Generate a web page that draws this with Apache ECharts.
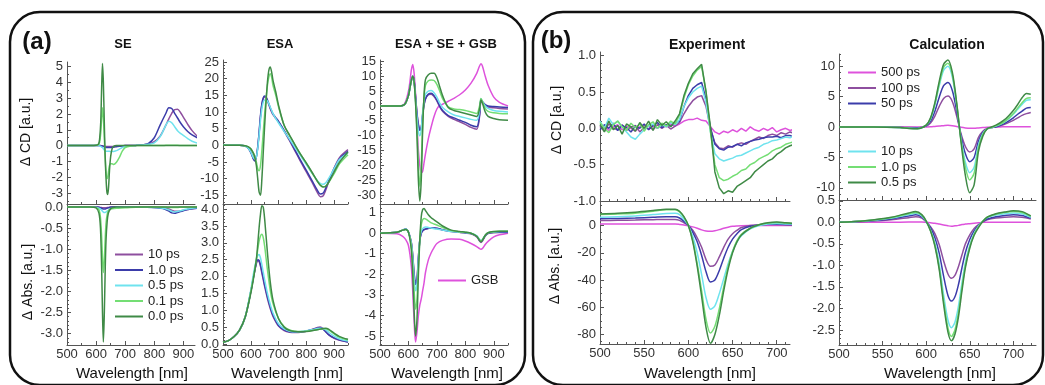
<!DOCTYPE html>
<html>
<head>
<meta charset="utf-8">
<script src="https://cdn.jsdelivr.net/npm/echarts@6/dist/echarts.min.js"></script>
<style>
html,body{margin:0;padding:0;background:#fff}
#main{width:1045px;height:385px}
</style>
</head>
<body>
<div id="main"></div>
<script>
// (a) SE
var seCdWl = [500, 580, 600, 608, 612, 616, 619, 622, 625, 628, 631, 634, 637, 640, 643, 646, 650, 655, 660, 670, 680, 690, 700, 720, 740, 760, 780, 800, 820, 840, 850, 860, 870, 880, 890, 900, 915, 930, 950];
var seCd10 = [0, 0, 0, 0, 0, 0, -0.01, -0.02, -0.03, -0.04, -0.05, -0.05, -0.06, -0.06, -0.06, -0.06, -0.06, -0.05, -0.05, -0.04, -0.02, -0.01, 0, 0, 0.02, 0.05, 0.1, 0.25, 0.6, 1.3, 1.7, 2.05, 2.28, 2.3, 2.1, 1.8, 1.35, 0.95, 0.55];
var seCd1 = [0, 0, 0, 0, 0, -0.01, -0.02, -0.03, -0.05, -0.08, -0.1, -0.11, -0.12, -0.12, -0.12, -0.12, -0.12, -0.11, -0.1, -0.07, -0.04, -0.02, 0, 0, 0.02, 0.05, 0.14, 0.5, 1.3, 2.05, 2.4, 2.35, 2.05, 1.75, 1.45, 1.2, 0.9, 0.68, 0.48];
var seCd05 = [0, 0, 0, 0, -0.02, -0.05, -0.1, -0.12, -0.2, -0.28, -0.32, -0.35, -0.35, -0.35, -0.36, -0.36, -0.37, -0.38, -0.37, -0.32, -0.22, -0.12, -0.05, 0, 0.02, 0.04, 0.08, 0.18, 0.55, 1.3, 1.55, 1.45, 1.2, 0.95, 0.78, 0.65, 0.45, 0.28, 0.15];
var seCd01 = [0, 0, 0.02, 0.06, 0.2, 0.8, 1.7, 2.4, 1.8, 0.6, -0.6, -1.6, -2.1, -2.0, -1.6, -1.25, -1.15, -1.15, -1.2, -1.05, -0.75, -0.35, -0.12, -0.02, 0, 0, 0, 0, 0, 0.02, 0.03, 0.03, 0.02, 0.02, 0.01, 0, 0, 0, 0];
var seCd00 = [0, 0, 0.02, 0.1, 0.4, 1.5, 3.6, 5.2, 4.0, 1.6, -0.6, -2.0, -2.9, -3.1, -2.6, -1.6, -0.7, -0.2, -0.05, 0, 0, 0, 0, 0, 0, 0, 0, 0, 0, 0, 0, 0, 0, 0, 0, 0, 0, 0, 0];

var seAbsWl = [500, 580, 600, 610, 615, 619, 622, 625, 628, 631, 634, 638, 642, 648, 655, 670, 700, 750, 800, 830, 850, 860, 870, 880, 890, 900, 915, 930, 950];
var seAbs10 = [0, 0, 0, 0, -0.01, -0.01, -0.02, -0.02, -0.02, -0.02, -0.02, -0.01, -0.01, 0, 0, 0, 0, 0, -0.01, -0.02, -0.05, -0.08, -0.1, -0.1, -0.09, -0.08, -0.06, -0.04, -0.03];
var seAbs1 = [0, 0, 0, -0.01, -0.02, -0.03, -0.04, -0.05, -0.05, -0.05, -0.04, -0.03, -0.02, -0.01, 0, 0, 0, 0, -0.01, -0.04, -0.1, -0.14, -0.15, -0.13, -0.11, -0.09, -0.06, -0.04, -0.03];
var seAbs05 = [0, 0, -0.01, -0.03, -0.05, -0.08, -0.1, -0.12, -0.13, -0.13, -0.12, -0.1, -0.08, -0.05, -0.03, -0.01, 0, 0, -0.01, -0.03, -0.07, -0.1, -0.12, -0.11, -0.09, -0.07, -0.05, -0.03, -0.02];
var seAbs01 = [0, 0, -0.01, -0.07, -0.25, -0.7, -1.2, -1.55, -1.3, -0.8, -0.4, -0.18, -0.09, -0.05, -0.04, -0.03, -0.02, 0, 0, 0, -0.01, -0.01, -0.01, -0.01, 0, 0, 0, 0, 0];
var seAbs00 = [0, 0, -0.02, -0.15, -0.5, -1.4, -2.5, -3.2, -2.6, -1.6, -0.8, -0.35, -0.15, -0.06, -0.02, 0, 0, 0, 0, 0, 0, 0, 0, 0, 0, 0, 0, 0, 0];

// (a) ESA
var esaCdWl = [500, 560, 580, 590, 600, 610, 615, 620, 625, 630, 635, 640, 645, 650, 655, 660, 665, 670, 675, 680, 690, 700, 720, 740, 760, 780, 800, 820, 840, 850, 860, 870, 880, 900, 920, 950];
var esaCd10 = [0, 0, -0.2, -0.8, -2.1, -4.1, -4.5, -3.4, -0.6, 3.6, 8.5, 12.2, 14, 14.5, 14.2, 13.3, 12.2, 11, 10, 9.2, 8.1, 7, 4.3, 1.3, -1.8, -5, -8, -11, -14.2, -15.4, -15.2, -13.4, -11, -6.8, -3.6, -1.3];
var esaCd1 = [0, 0, -0.2, -0.8, -2.1, -4.2, -4.7, -3.5, -0.5, 4, 9, 12.5, 14.3, 14.8, 14.5, 13.6, 12.5, 11.3, 10.3, 9.4, 8.3, 7.2, 4.5, 1.6, -1.5, -4.6, -7.5, -10.5, -13.5, -14.6, -14.4, -12.8, -10.8, -7, -4, -1.8];
var esaCd05 = [0, 0, -0.2, -0.8, -2, -3.8, -4.2, -3.5, -1, 3, 7.5, 11, 13, 13.6, 13.6, 13.3, 12.5, 11.5, 10.5, 9.5, 8, 6.7, 4.2, 1.8, -0.8, -3.2, -5.8, -8.3, -10.6, -11.4, -11.7, -11.2, -10, -7, -4.2, -2.3];
var esaCd01 = [0, 0, -0.1, -0.4, -1, -2.4, -3.6, -5, -7, -7.6, -6, -1.5, 4, 9.5, 14, 18, 20.5, 21.5, 20.5, 18, 15, 11.5, 6, 2.8, 0, -2.8, -5.4, -8.2, -10.8, -11.8, -12.4, -12.2, -11.2, -8.5, -5.5, -2.8];
var esaCd00 = [0, 0, -0.1, -0.4, -1, -2.5, -3.8, -6, -10, -14, -15, -10, -2, 6, 13, 19, 22.5, 23.5, 22, 19.5, 16, 12, 6, 3, 0, -2.8, -5.3, -8, -10.8, -12, -12.5, -12.3, -11.2, -8, -5, -2];

var esaAbsWl = [500, 520, 540, 560, 580, 600, 610, 620, 625, 630, 635, 640, 645, 650, 660, 670, 680, 700, 720, 740, 760, 780, 800, 820, 840, 850, 860, 870, 880, 900, 920, 950];
var esaAbs10 = [0.05, 0.1, 0.22, 0.42, 0.8, 1.55, 2.0, 2.38, 2.47, 2.44, 2.3, 2.1, 1.9, 1.7, 1.35, 1.05, 0.82, 0.53, 0.4, 0.35, 0.34, 0.35, 0.38, 0.43, 0.49, 0.5, 0.46, 0.37, 0.28, 0.17, 0.11, 0.06];
var esaAbs1 = [0.05, 0.1, 0.22, 0.42, 0.8, 1.55, 2.0, 2.4, 2.5, 2.48, 2.35, 2.15, 1.95, 1.75, 1.4, 1.1, 0.85, 0.55, 0.42, 0.36, 0.35, 0.36, 0.38, 0.42, 0.47, 0.48, 0.44, 0.36, 0.28, 0.18, 0.12, 0.06];
var esaAbs05 = [0.05, 0.1, 0.22, 0.42, 0.8, 1.6, 2.1, 2.5, 2.62, 2.65, 2.55, 2.35, 2.12, 1.9, 1.5, 1.18, 0.92, 0.6, 0.45, 0.38, 0.36, 0.37, 0.39, 0.42, 0.46, 0.47, 0.46, 0.42, 0.35, 0.23, 0.15, 0.09];
var esaAbs01 = [0.05, 0.1, 0.22, 0.42, 0.8, 1.55, 2.0, 2.5, 2.8, 3.05, 3.2, 3.25, 3.15, 2.9, 2.2, 1.6, 1.2, 0.75, 0.52, 0.42, 0.38, 0.37, 0.38, 0.4, 0.43, 0.44, 0.45, 0.45, 0.42, 0.3, 0.2, 0.12];
var esaAbs00 = [0.05, 0.1, 0.22, 0.42, 0.8, 1.5, 1.95, 2.5, 2.95, 3.45, 3.85, 4.1, 4.05, 3.7, 2.7, 1.85, 1.3, 0.75, 0.5, 0.4, 0.37, 0.36, 0.37, 0.39, 0.42, 0.44, 0.46, 0.47, 0.44, 0.32, 0.22, 0.14];

// (a) ESA + SE + GSB
var sumCdWl = [500, 560, 580, 590, 600, 605, 610, 615, 620, 625, 630, 635, 640, 645, 650, 655, 660, 670, 680, 690, 700, 710, 720, 740, 760, 780, 800, 820, 840, 850, 855, 860, 870, 880, 900, 920, 950];
var sumCdGsb = [0, 0, 0.2, 1.5, 5, 8, 12, 14, 11, 4, -6, -15, -20, -22.5, -22, -19, -16, -11, -7, -3.5, -1, 0.2, 0.6, 1.6, 2.6, 3.8, 5.4, 7.7, 11, 13.5, 14.2, 13.5, 10, 7, 3, 1.2, 0];
var sumCd10 = [0, 0, 0.2, 1, 3.5, 6, 8.5, 10, 8.5, 3.2, -2.2, -6, -7.6, -7, -2.8, 0.5, 2.4, 3.8, 4, 3.2, 1.7, -0.3, -1.8, -3.5, -4.5, -5.3, -6.2, -7.2, -7.8, -3.5, 2, 1.2, 0.2, -0.3, -0.6, -0.8, -1];
var sumCd1 = [0, 0, 0.2, 1, 3.5, 6, 8.5, 10, 8.5, 3, -2.5, -6.5, -8.2, -7.5, -3, 0.5, 2.5, 4, 4.3, 3.5, 2, 0, -1.5, -3.2, -4, -4.8, -5.5, -6.5, -7, -3, 2.3, 1.5, 0.5, 0, -0.2, -0.3, -0.5];
var sumCd05 = [0, 0, 0.2, 1, 3.5, 6, 8.5, 10, 8, 2, -4, -8.5, -10, -8, -2, 2, 4, 5, 5.2, 4.5, 3, 1, -0.5, -2, -3, -3.5, -4, -4.5, -4.8, -1.5, 2.5, 1.5, 0, -0.8, -1.5, -1.8, -2];
var sumCd01 = [0, 0, 0.2, 1, 3.5, 6, 8.5, 10, 8, 1.5, -8, -20, -27, -20, -6, 3, 7, 8.5, 8.8, 8.6, 7.3, 5, 2.5, -0.3, -1, -1.2, -1.5, -2, -2.5, 0, 2.5, 1.5, -0.8, -1.8, -2.3, -2.5, -2.6];
var sumCd00 = [0, 0, 0.2, 1, 3.5, 6, 8.5, 10, 8, 1, -10, -25, -32, -25, -8, 4, 9, 10.5, 11, 11, 9.5, 6.5, 3.5, -0.5, -1.5, -2, -2.5, -3, -3.5, -1, 2, 1, -2, -3.5, -4.2, -4.6, -4.8];

var sumAbsWl = [500, 560, 580, 590, 600, 610, 615, 620, 625, 630, 635, 640, 645, 650, 655, 660, 670, 680, 690, 700, 720, 750, 780, 800, 820, 840, 850, 855, 860, 870, 880, 900, 920, 950];
var sumAbsGsb = [0, -0.03, -0.15, -0.3, -0.6, -1.6, -2.8, -4.3, -5.3, -4.8, -4.0, -3.5, -3.2, -2.8, -2.4, -1.9, -1.3, -0.95, -0.7, -0.5, -0.35, -0.28, -0.3, -0.38, -0.5, -0.65, -0.75, -0.78, -0.75, -0.55, -0.4, -0.18, -0.08, 0];
var sumAbs10 = [0, 0.05, 0.15, 0.2, 0.05, -0.45, -1.05, -1.95, -2.4, -2.2, -1.15, -0.35, 0.0, 0.12, 0.18, 0.2, 0.23, 0.25, 0.24, 0.23, 0.16, 0.08, 0.04, 0.01, -0.03, -0.18, -0.38, -0.45, -0.38, -0.14, -0.02, 0.02, 0.03, 0.03];
var sumAbs1 = [0, 0.05, 0.15, 0.2, 0.05, -0.45, -1.1, -2.0, -2.5, -2.3, -1.2, -0.35, 0.0, 0.12, 0.18, 0.2, 0.24, 0.26, 0.25, 0.24, 0.17, 0.09, 0.05, 0.02, -0.02, -0.15, -0.34, -0.4, -0.34, -0.12, 0, 0.04, 0.05, 0.05];
var sumAbs05 = [0, 0.05, 0.15, 0.2, 0.05, -0.5, -1.2, -2.2, -2.8, -2.5, -1.3, -0.3, 0.1, 0.22, 0.28, 0.3, 0.28, 0.25, 0.22, 0.2, 0.15, 0.08, 0.05, 0.03, 0, -0.12, -0.3, -0.36, -0.3, -0.1, 0.02, 0.06, 0.08, 0.08];
var sumAbs01 = [0, 0.05, 0.15, 0.18, 0.05, -0.6, -1.5, -2.8, -3.7, -3.2, -1.6, -0.3, 0.4, 0.65, 0.72, 0.7, 0.6, 0.5, 0.45, 0.4, 0.28, 0.13, 0.07, 0.04, 0, -0.15, -0.32, -0.38, -0.32, -0.1, 0.02, 0.07, 0.09, 0.1];
var sumAbs00 = [0, 0.05, 0.15, 0.18, 0.05, -0.8, -2.0, -3.8, -5.0, -4.2, -2.0, -0.3, 0.8, 1.15, 1.2, 1.1, 0.9, 0.75, 0.65, 0.55, 0.35, 0.15, 0.08, 0.05, 0, -0.15, -0.35, -0.42, -0.35, -0.1, 0.02, 0.08, 0.1, 0.1];

// (b) Experiment
var expCdWl = [500, 505, 510, 515, 520, 525, 530, 535, 540, 545, 550, 555, 560, 565, 570, 575, 580, 585, 590, 595, 600, 605, 610, 615, 620, 625, 630, 635, 640, 645, 650, 655, 660, 665, 670, 675, 680, 685, 690, 695, 700, 705, 710, 715, 720];
var expCd500 = [0.0, 0.04, -0.03, 0.02, 0.05, -0.02, 0.03, 0.0, -0.04, 0.02, 0.05, -0.01, 0.03, 0.0, 0.04, 0.02, 0.06, 0.03, 0.06, 0.1, 0.12, 0.12, 0.14, 0.11, 0.1, 0.02, -0.05, -0.08, -0.04, -0.06, -0.02, -0.05, 0.0, -0.04, 0.02, -0.02, -0.04, 0.0, -0.03, 0.01, -0.05, -0.02, 0.0, -0.03, -0.01];
var expCd100 = [0.03, -0.04, 0.06, 0.0, -0.02, 0.05, -0.03, 0.02, 0.04, -0.05, 0.01, 0.03, -0.02, 0.05, 0.0, 0.04, -0.01, 0.03, 0.08, 0.2, 0.3, 0.38, 0.43, 0.45, 0.3, 0.0, -0.2, -0.27, -0.28, -0.24, -0.26, -0.22, -0.2, -0.22, -0.18, -0.15, -0.12, -0.14, -0.1, -0.08, -0.1, -0.06, -0.08, -0.05, -0.07];
var expCd50 = [-0.02, 0.05, 0.0, 0.07, -0.03, 0.04, 0.01, -0.05, 0.03, 0.0, 0.06, -0.02, 0.04, 0.08, 0.01, 0.05, 0.03, 0.07, 0.1, 0.3, 0.45, 0.55, 0.6, 0.63, 0.4, 0.0, -0.22, -0.28, -0.3, -0.26, -0.25, -0.22, -0.24, -0.2, -0.18, -0.16, -0.15, -0.13, -0.12, -0.12, -0.11, -0.13, -0.1, -0.1, -0.12];
var expCd10 = [0.1, 0.0, 0.14, 0.05, 0.1, 0.02, -0.05, -0.12, -0.15, -0.08, -0.02, 0.03, 0.06, 0.0, 0.05, 0.02, 0.08, 0.05, 0.12, 0.3, 0.42, 0.5, 0.55, 0.58, 0.35, -0.05, -0.35, -0.42, -0.45, -0.43, -0.41, -0.38, -0.37, -0.34, -0.31, -0.28, -0.26, -0.22, -0.2, -0.17, -0.16, -0.14, -0.12, -0.13, -0.1];
var expCd1 = [0.08, 0.0, -0.06, 0.05, 0.1, 0.02, -0.03, 0.07, 0.01, 0.06, -0.04, 0.05, 0.09, 0.0, 0.07, 0.03, 0.1, 0.06, 0.18, 0.42, 0.6, 0.72, 0.8, 0.85, 0.5, -0.05, -0.5, -0.68, -0.72, -0.7, -0.66, -0.63, -0.58, -0.56, -0.5, -0.47, -0.42, -0.39, -0.36, -0.31, -0.28, -0.26, -0.22, -0.2, -0.18];
var expCd05 = [0.05, -0.05, 0.1, -0.02, 0.04, -0.08, 0.06, 0.02, -0.04, 0.08, 0.0, 0.1, -0.03, 0.12, 0.04, 0.09, 0.02, 0.1, 0.2, 0.45, 0.62, 0.75, 0.82, 0.88, 0.5, 0.02, -0.6, -0.82, -0.9, -0.86, -0.88, -0.8, -0.76, -0.72, -0.68, -0.6, -0.55, -0.5, -0.45, -0.42, -0.36, -0.32, -0.27, -0.24, -0.22];

var expAbsWl = [500, 520, 540, 560, 575, 585, 590, 595, 600, 605, 610, 615, 620, 625, 630, 635, 640, 645, 650, 655, 660, 670, 680, 690, 700, 710, 720];
var expAbs500 = [1.2, 1.2, 1.2, 1.2, 1.2, 1.1, 0.8, 0.4, -0.3, -1, -2, -3.2, -4, -4.2, -3.8, -3, -2, -1.2, -0.6, -0.3, -0.1, 0, 0, 0.1, 0.1, 0.1, 0.1];
var expAbs100 = [3.7, 3.8, 4, 4.3, 4.5, 4.5, 3.8, 2, 0, -3.5, -9, -16, -25, -30, -29, -23, -16, -10, -6, -3.5, -1.5, 0, 0.5, 0.7, 0.7, 0.5, 0.4];
var expAbs50 = [5, 5.2, 5.5, 6, 6.5, 6.5, 5.5, 3, 0, -5, -12, -22, -34, -41.5, -40, -33, -24, -16, -10, -6, -3, -0.5, 0.5, 1, 1, 0.8, 0.6];
var expAbs10 = [6, 6.5, 7, 8, 8.8, 9, 8, 4.5, 0, -8, -20, -36, -53, -61.5, -59, -50, -39, -28, -19, -12, -7.5, -2.5, 0, 1.2, 1.5, 1.2, 1];
var expAbs1 = [8, 8.5, 9, 10.5, 11.5, 11.5, 10, 6, 0, -11, -28, -48, -69, -79, -74, -61, -45, -30, -19, -11, -6.5, -2, 0.5, 1.8, 2.2, 1.8, 1.4];
var expAbs05 = [8.5, 9, 9.8, 11, 12, 12, 10.5, 6.5, 0, -12, -30, -52, -75, -86.5, -80, -66, -48, -32, -20, -12, -7, -2, 0.5, 2, 2.5, 2, 1.5];

// (b) Calculation
var calcCdWl = [500, 540, 570, 580, 590, 600, 605, 610, 615, 620, 625, 630, 635, 640, 645, 650, 655, 660, 665, 670, 675, 680, 685, 690, 695, 700, 705, 710, 715, 720];
var calcCd500 = [0, 0, 0, 0, 0, 0.02, 0.05, 0.1, 0.15, 0.22, 0.28, 0.22, 0.1, -0.05, -0.15, -0.2, -0.2, -0.15, -0.1, -0.05, -0.02, 0, 0.02, 0.03, 0.04, 0.05, 0.05, 0.06, 0.06, 0.06];
var calcCd100 = [0, 0, -0.05, -0.1, -0.12, 0.15, 0.65, 1.8, 3.4, 4.7, 5.1, 4.2, 1.8, -1.1, -3.2, -4.1, -3.6, -1.7, -0.7, -0.25, -0.1, 0, 0.2, 0.45, 0.75, 1.1, 1.5, 1.9, 2.2, 2.4];
var calcCd50 = [0, 0, -0.08, -0.15, -0.18, 0.2, 0.95, 2.6, 4.9, 6.8, 7.3, 6.0, 2.6, -1.5, -4.4, -5.7, -5.0, -2.3, -0.9, -0.3, -0.1, 0.05, 0.3, 0.6, 1.0, 1.5, 2.1, 2.6, 3.1, 3.2];
var calcCd10 = [0, 0, -0.1, -0.2, -0.25, 0.28, 1.3, 3.6, 6.8, 9.3, 10.0, 8.2, 3.6, -2, -5.8, -7.5, -6.6, -3, -1.1, -0.3, -0.1, 0.15, 0.45, 0.85, 1.4, 2.1, 2.9, 3.7, 4.4, 4.5];
var calcCd1 = [0, 0, -0.1, -0.22, -0.27, 0.3, 1.4, 3.8, 7.1, 9.8, 10.5, 8.6, 3.8, -2.2, -6.6, -8.7, -7.6, -3.4, -1.2, -0.3, -0.1, 0.2, 0.5, 0.9, 1.5, 2.2, 3.1, 4.0, 4.7, 4.8];
var calcCd05 = [0, 0, -0.1, -0.25, -0.3, 0.3, 1.5, 4, 7.5, 10.3, 11, 9, 4, -2.5, -8, -10.8, -9.5, -4, -1.5, -0.3, 0, 0.3, 0.7, 1.2, 1.9, 2.7, 3.7, 4.8, 5.5, 5.4];

var calcAbsWl = [500, 530, 560, 580, 588, 595, 600, 605, 610, 615, 620, 625, 629, 633, 637, 641, 645, 650, 655, 660, 665, 670, 680, 690, 700, 710, 720];
var calcAbs500 = [0, 0, 0, 0.01, 0.01, 0.01, 0, -0.01, -0.02, -0.04, -0.06, -0.08, -0.09, -0.08, -0.07, -0.05, -0.04, -0.03, -0.02, -0.01, 0, 0, 0, 0, 0, 0, 0];
var calcAbs100 = [0, 0.02, 0.06, 0.11, 0.13, 0.1, 0.01, -0.1, -0.26, -0.52, -0.89, -1.2, -1.3, -1.23, -1.03, -0.76, -0.5, -0.29, -0.14, -0.05, 0.01, 0.06, 0.1, 0.12, 0.13, 0.12, 0.08];
var calcAbs50 = [0, 0.03, 0.08, 0.15, 0.18, 0.13, 0.02, -0.13, -0.36, -0.72, -1.25, -1.7, -1.83, -1.73, -1.45, -1.06, -0.7, -0.4, -0.2, -0.07, 0.02, 0.08, 0.13, 0.16, 0.18, 0.16, 0.1];
var calcAbs10 = [0, 0.03, 0.1, 0.18, 0.21, 0.15, 0.02, -0.18, -0.48, -0.97, -1.68, -2.27, -2.45, -2.32, -1.95, -1.42, -0.93, -0.53, -0.26, -0.09, 0.03, 0.11, 0.17, 0.2, 0.22, 0.2, 0.12];
var calcAbs1 = [0, 0.04, 0.11, 0.2, 0.23, 0.17, 0.03, -0.19, -0.52, -1.05, -1.82, -2.45, -2.65, -2.5, -2.1, -1.52, -1.0, -0.57, -0.28, -0.1, 0.03, 0.12, 0.19, 0.23, 0.25, 0.23, 0.14];
var calcAbs05 = [0, 0.04, 0.12, 0.22, 0.25, 0.18, 0.03, -0.2, -0.55, -1.1, -1.9, -2.55, -2.75, -2.6, -2.2, -1.6, -1.05, -0.6, -0.3, -0.12, 0.02, 0.12, 0.2, 0.24, 0.27, 0.25, 0.15];

var PURPLE = '#8e4f9f', BLUE = '#3b3caa', CYAN = '#6fe3ee', LGREEN = '#74de74', DGREEN = '#3f8a46', MAGENTA = '#de52dc';
var FONT = '"Liberation Sans", Arial, sans-serif';
var AXIS = '#555';

var grids = [], xAxes = [], yAxes = [], series = [];

function ticks(a, b, step) {
    var out = [];
    for (var i = Math.ceil(a / step - 1e-9); i * step <= b + 1e-9; i++) {
        out.push(Math.round(i * step * 1e6) / 1e6);
    }
    return out;
}

function mainAxis(g, r, pos, showLabel, dec) {
    var major = ticks(r[0], r[1], r[2]);
    return {
        type: 'value', gridIndex: g, position: pos, offset: 0, min: r[0], max: r[1],
        axisLine: {show: true, onZero: false, lineStyle: {color: AXIS, width: 1}},
        axisTick: {show: true, inside: true, length: 4, customValues: major, lineStyle: {color: AXIS}},
        axisLabel: {show: showLabel, customValues: major, margin: pos == 'left' ? 4 : 3, color: '#333', fontSize: 13, fontFamily: FONT,
            formatter: function (v) { return (+v).toFixed(dec); }},
        splitLine: {show: false}
    };
}

function minorAxis(g, r, pos) {
    return {
        type: 'value', gridIndex: g, position: pos, offset: 0, min: r[0], max: r[1],
        axisLine: {show: false, onZero: false},
        axisTick: {show: true, inside: true, length: 2, customValues: ticks(r[0], r[1], r[3]), lineStyle: {color: AXIS}},
        axisLabel: {show: false},
        splitLine: {show: false}
    };
}

// box: left, top, width, height ; xr / yr: min, max, major step, minor step
function addPlot(box, xr, yr, showX, dec) {
    var g = grids.length;
    grids.push({left: box[0], top: box[1], width: box[2], height: box[3], containLabel: false, outerBoundsMode: 'none'});
    xAxes.push(mainAxis(g, xr, 'bottom', showX, 0));
    xAxes.push(minorAxis(g, xr, 'bottom'));
    yAxes.push(mainAxis(g, yr, 'left', true, dec));
    yAxes.push(minorAxis(g, yr, 'left'));
    return g;
}

function addLines(g, wl, list, smooth) {
    list.forEach(function (s) {
        series.push({
            type: 'line', name: s[0], xAxisIndex: g * 2, yAxisIndex: g * 2,
            data: wl.map(function (w, i) { return [w, s[1][i]]; }),
            symbol: 'none', smooth: smooth, animation: false,
            lineStyle: {color: s[2], width: 1.5}, itemStyle: {color: s[2]}
        });
    });
}

var g;
g = addPlot([67, 62, 128, 142], [500, 940, 100, 50], [-3.7, 5.3, 1, 0.5], false, 0);
addLines(g, seCdWl, [['a10 ps', seCd10, PURPLE], ['a1.0 ps', seCd1, BLUE], ['a0.5 ps', seCd05, CYAN], ['a0.1 ps', seCd01, LGREEN], ['a0.0 ps', seCd00, DGREEN]], 0.3);
g = addPlot([67, 204, 128, 141], [500, 940, 100, 50], [-3.27, 0.07, 0.5, 0.1], true, 1);
addLines(g, seAbsWl, [['a10 ps', seAbs10, PURPLE], ['a1.0 ps', seAbs1, BLUE], ['a0.5 ps', seAbs05, CYAN], ['a0.1 ps', seAbs01, LGREEN], ['a0.0 ps', seAbs00, DGREEN]], 0.3);

g = addPlot([223, 60, 125, 144], [500, 950, 100, 50], [-17.6, 25.6, 5, 1], false, 0);
addLines(g, esaCdWl, [['a10 ps', esaCd10, PURPLE], ['a1.0 ps', esaCd1, BLUE], ['a0.5 ps', esaCd05, CYAN], ['a0.1 ps', esaCd01, LGREEN], ['a0.0 ps', esaCd00, DGREEN]], 0.3);
g = addPlot([223, 204, 125, 141], [500, 950, 100, 50], [-0.03, 4.15, 0.5, 0.1], true, 1);
addLines(g, esaAbsWl, [['a10 ps', esaAbs10, PURPLE], ['a1.0 ps', esaAbs1, BLUE], ['a0.5 ps', esaAbs05, CYAN], ['a0.1 ps', esaAbs01, LGREEN], ['a0.0 ps', esaAbs00, DGREEN]], 0.3);

g = addPlot([380, 60, 128, 144], [500, 950, 100, 50], [-33, 15.5, 5, 1], false, 0);
addLines(g, sumCdWl, [['aGSB', sumCdGsb, MAGENTA], ['a10 ps', sumCd10, PURPLE], ['a1.0 ps', sumCd1, BLUE], ['a0.5 ps', sumCd05, CYAN], ['a0.1 ps', sumCd01, LGREEN], ['a0.0 ps', sumCd00, DGREEN]], 0.3);
g = addPlot([380, 204, 128, 141], [500, 950, 100, 50], [-5.44, 1.42, 1, 0.2], true, 0);
addLines(g, sumAbsWl, [['aGSB', sumAbsGsb, MAGENTA], ['a10 ps', sumAbs10, PURPLE], ['a1.0 ps', sumAbs1, BLUE], ['a0.5 ps', sumAbs05, CYAN], ['a0.1 ps', sumAbs01, LGREEN], ['a0.0 ps', sumAbs00, DGREEN]], 0.3);

g = addPlot([600, 52, 190, 149], [500, 715, 50, 10], [-1.0, 1.05, 0.5, 0.1], false, 1);
addLines(g, expCdWl, [['b500 ps', expCd500, MAGENTA], ['b100 ps', expCd100, PURPLE], ['b50 ps', expCd50, BLUE], ['b10 ps', expCd10, CYAN], ['b1.0 ps', expCd1, LGREEN], ['b0.5 ps', expCd05, DGREEN]], false);
g = addPlot([600, 201, 190, 143], [500, 715, 50, 10], [-87, 18, 20, 5], true, 0);
addLines(g, expAbsWl, [['b500 ps', expAbs500, MAGENTA], ['b100 ps', expAbs100, PURPLE], ['b50 ps', expAbs50, BLUE], ['b10 ps', expAbs10, CYAN], ['b1.0 ps', expAbs1, LGREEN], ['b0.5 ps', expAbs05, DGREEN]], 0.3);

g = addPlot([839, 54, 197, 146], [500, 726, 50, 10], [-12, 12, 5, 1], false, 0);
addLines(g, calcCdWl, [['b500 ps', calcCd500, MAGENTA], ['b100 ps', calcCd100, PURPLE], ['b50 ps', calcCd50, BLUE], ['b10 ps', calcCd10, CYAN], ['b1.0 ps', calcCd1, LGREEN], ['b0.5 ps', calcCd05, DGREEN]], 0.3);
g = addPlot([839, 200, 197, 145], [500, 726, 50, 10], [-2.85, 0.52, 0.5, 0.1], true, 1);
addLines(g, calcAbsWl, [['b500 ps', calcAbs500, MAGENTA], ['b100 ps', calcAbs100, PURPLE], ['b50 ps', calcAbs50, BLUE], ['b10 ps', calcAbs10, CYAN], ['b1.0 ps', calcAbs1, LGREEN], ['b0.5 ps', calcAbs05, DGREEN]], 0.3);

function legendAt(left, top, names) {
    return {
        left: left, top: top, orient: 'vertical', padding: 0, icon: 'rect', itemWidth: 28, itemHeight: 2, itemGap: 2.5,
        selectedMode: false, data: names,
        formatter: function (n) { return n.slice(1); },
        textStyle: {fontSize: 13, color: '#222', fontFamily: FONT}
    };
}

function txt(x, y, s, font, rot) {
    return {type: 'text', x: x, y: y, rotation: rot || 0, silent: true,
        style: {text: s, font: font, fill: '#111', align: 'center', verticalAlign: 'middle'}};
}

var boxStyle = {fill: 'none', stroke: '#111', lineWidth: 2.5};
var graphics = [
    {type: 'rect', shape: {x: 10, y: 12, width: 515, height: 373, r: 30}, style: boxStyle, silent: true},
    {type: 'rect', shape: {x: 533, y: 12, width: 510, height: 373, r: 30}, style: boxStyle, silent: true},
    txt(37, 42, '(a)', 'bold 24px ' + FONT),
    txt(556, 41, '(b)', 'bold 24px ' + FONT),
    txt(123, 44, 'SE', 'bold 13px ' + FONT),
    txt(280, 44, 'ESA', 'bold 13px ' + FONT),
    txt(446, 44, 'ESA + SE + GSB', 'bold 13px ' + FONT),
    txt(707, 45, 'Experiment', 'bold 14px ' + FONT),
    txt(947, 45, 'Calculation', 'bold 14px ' + FONT),
    txt(26, 132, '\u0394 CD [a.u.]', '14px ' + FONT, Math.PI / 2),
    txt(28, 282, '\u0394 Abs. [a.u.]', '14px ' + FONT, Math.PI / 2),
    txt(557, 120, '\u0394 CD [a.u.]', '14px ' + FONT, Math.PI / 2),
    txt(555, 266, '\u0394 Abs. [a.u.]', '14px ' + FONT, Math.PI / 2),
    txt(132, 374, 'Wavelength [nm]', '15px ' + FONT),
    txt(287, 374, 'Wavelength [nm]', '15px ' + FONT),
    txt(447, 374, 'Wavelength [nm]', '15px ' + FONT),
    txt(700, 374, 'Wavelength [nm]', '15px ' + FONT),
    txt(940, 374, 'Wavelength [nm]', '15px ' + FONT)
];

var chart = echarts.init(document.getElementById('main'), null, {renderer: 'canvas'});
chart.setOption({
    animation: false,
    backgroundColor: '#fff',
    grid: grids,
    xAxis: xAxes,
    yAxis: yAxes,
    legend: [
        legendAt(115, 248, ['a10 ps', 'a1.0 ps', 'a0.5 ps', 'a0.1 ps', 'a0.0 ps']),
        legendAt(438, 274, ['aGSB']),
        legendAt(848, 66, ['b500 ps', 'b100 ps', 'b50 ps']),
        legendAt(848, 145, ['b10 ps', 'b1.0 ps', 'b0.5 ps'])
    ],
    graphic: graphics,
    series: series
});
</script>
</body>
</html>
